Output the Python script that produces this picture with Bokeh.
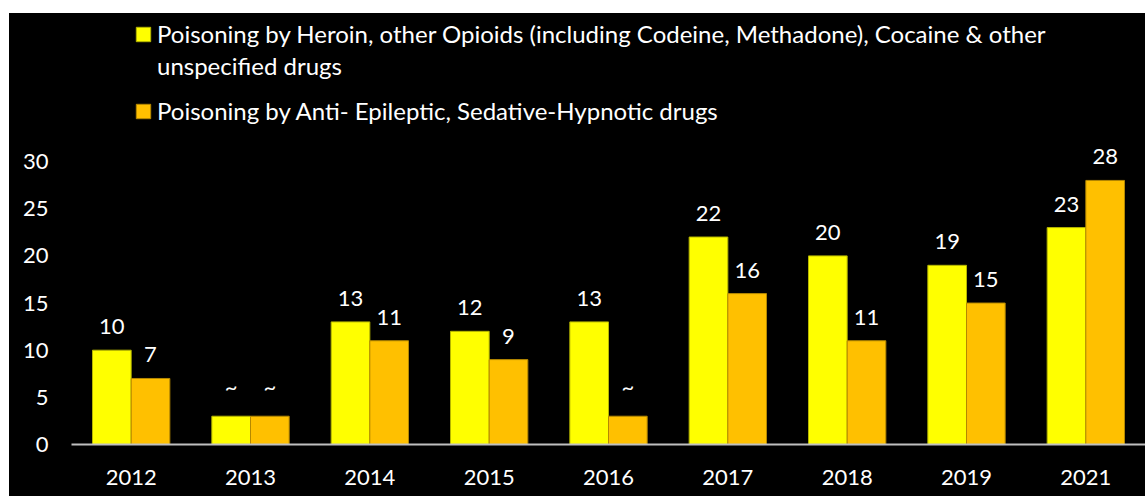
from bokeh.plotting import figure
from bokeh.models import ColumnDataSource, Legend, LegendItem, Range1d, FixedTicker, Spacer
from bokeh.layouts import column, row
from bokeh.transform import dodge
from bokeh.core.properties import value
from bokeh.embed import file_html
from bokeh.resources import INLINE

years = ["2012", "2013", "2014", "2015", "2016", "2017", "2018", "2019", "2021"]
heroin = [10, 3, 13, 12, 13, 22, 20, 19, 23]
anti = [7, 3, 11, 9, 3, 16, 11, 15, 28]
heroin_lbl = ["10", "~", "13", "12", "13", "22", "20", "19", "23"]
anti_lbl = ["7", "~", "11", "9", "~", "16", "11", "15", "28"]
series_names = [
    "Poisoning by Heroin, other Opioids (including Codeine, Methadone), Cocaine & other\nunspecified drugs",
    "Poisoning by Anti- Epileptic, Sedative-Hypnotic drugs",
]
y_ticks = [0, 5, 10, 15, 20, 25, 30]

FONT = "Lato"
FS = "22px"
LFS = "24px"

src = ColumnDataSource(dict(years=years, heroin=heroin, anti=anti,
                            heroin_lbl=heroin_lbl, anti_lbl=anti_lbl))

p = figure(x_range=years, width=1136, height=483, output_backend="svg",
           toolbar_location=None, background_fill_color="black",
           border_fill_color="black",
           min_border_left=62, min_border_right=0, min_border_top=0,
           min_border_bottom=52)
p.styles = {"background-color": "black"}
p.outline_line_color = None
p.y_range = Range1d(0, 45.7)

bw = 0.324
r1 = p.vbar(x=dodge("years", -bw / 2, range=p.x_range), top="heroin", width=bw,
            source=src, fill_color="#FFFF00", line_color="#B5B500", line_width=1)
r2 = p.vbar(x=dodge("years", bw / 2, range=p.x_range), top="anti", width=bw,
            source=src, fill_color="#FFC000", line_color="#B58800", line_width=1)
# invisible renderer used only for the legend's wrapped second line
r_blank = p.vbar(x=[], top=[], width=bw, fill_color=None, line_color=None)

p.text(x=dodge("years", -bw / 2, range=p.x_range), y="heroin", text="heroin_lbl",
       source=src, text_color="white", text_font=value(FONT), text_font_size=FS,
       text_align="center", text_baseline="bottom", y_offset=-16)
p.text(x=dodge("years", bw / 2, range=p.x_range), y="anti", text="anti_lbl",
       source=src, text_color="white", text_font=value(FONT), text_font_size=FS,
       text_align="center", text_baseline="bottom", y_offset=-16)

p.xgrid.visible = False
p.ygrid.visible = False

p.yaxis.ticker = FixedTicker(ticks=y_ticks)
p.yaxis.axis_line_color = None
p.yaxis.major_tick_line_color = None
p.yaxis.minor_tick_line_color = None
p.yaxis.major_label_standoff = 17
p.yaxis.major_label_text_color = "white"
p.yaxis.major_label_text_font = FONT
p.yaxis.major_label_text_font_size = FS

p.xaxis.axis_line_color = "#BFBFBF"
p.xaxis.axis_line_width = 2
p.xaxis.major_tick_line_color = None
p.xaxis.minor_tick_line_color = None
p.xaxis.major_label_standoff = 19
p.xaxis.major_label_text_color = "white"
p.xaxis.major_label_text_font = FONT
p.xaxis.major_label_text_font_size = FS

leg_style = dict(orientation="vertical", background_fill_alpha=0,
                 border_line_color=None, padding=0, margin=0,
                 glyph_width=18, glyph_height=18, label_standoff=5,
                 label_height=29, label_text_color="white",
                 label_text_font=FONT, label_text_font_size=LFS,
                 label_text_baseline="middle")

line1, line2 = series_names[0].split("\n")
legend_a = Legend(items=[LegendItem(label=line1, renderers=[r1]),
                         LegendItem(label=line2, renderers=[r_blank])],
                  location=(63, 364), spacing=3, **leg_style)
legend_b = Legend(items=[LegendItem(label=series_names[1], renderers=[r2])],
                  location=(63, 319), spacing=0, **leg_style)
p.add_layout(legend_a)
p.add_layout(legend_b)

layout = column(Spacer(height=13, width=1145),
                row(Spacer(width=9, height=483), p, spacing=0), spacing=0)
open("out.html", "w").write(file_html(layout, INLINE))
